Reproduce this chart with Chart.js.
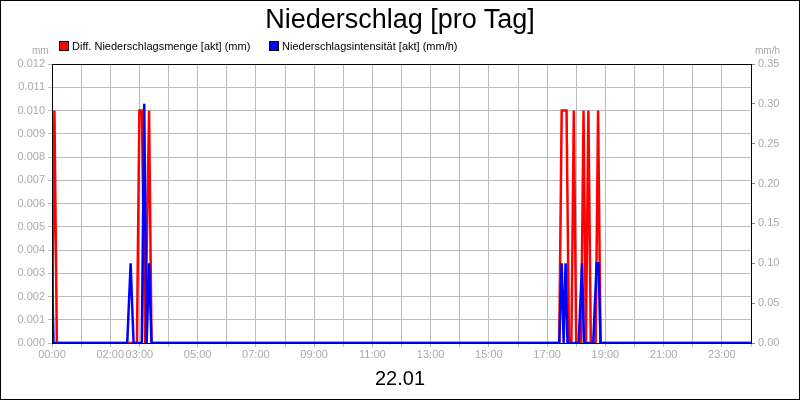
<!DOCTYPE html>
<html><head><meta charset="utf-8">
<script src="https://cdn.jsdelivr.net/npm/chart.js@4"></script>
<style>
body{margin:0;font-family:"Liberation Sans",Arial,sans-serif}
#wrap{position:relative;width:798px;height:398px;border:1px solid #000;background:#fff}
canvas{position:absolute;left:0;top:0}
.t{position:absolute;white-space:nowrap}
</style></head><body>
<div id="wrap">
<canvas id="c" width="798" height="398"></canvas>
<div class="t" style="left:0;width:798px;top:3px;text-align:center;font-size:27px">Niederschlag [pro Tag]</div>
<div class="t" style="left:0;width:798px;top:366px;text-align:center;font-size:20px">22.01</div>
<div class="t" style="left:31px;top:44px;font-size:10px;color:#aaa">mm</div>
<div class="t" style="left:754px;top:44px;font-size:10px;color:#aaa">mm/h</div>
<div class="t" style="left:58px;top:39px;font-size:11px"><span style="display:inline-block;width:8px;height:8px;background:#f00;border:1px solid #000;vertical-align:-1px"></span> Diff. Niederschlagsmenge [akt] (mm)</div>
<div class="t" style="left:268px;top:39px;font-size:11px"><span style="display:inline-block;width:8px;height:8px;background:#00f;border:1px solid #000;vertical-align:-1px"></span> Niederschlagsintensität [akt] (mm/h)</div>
</div>
<script>
// times as HH:MM, values per series
const mengeTimes = ['00:00','00:05','00:10','02:55','03:00','03:05','03:12','03:20','03:25','17:25','17:30','17:35','17:40','17:45','17:50','17:55','18:00','18:10','18:15','18:20','18:25','18:30','18:40','18:45','18:50','24:00'];
const mengeValues = [0,0.01,0,0,0.01,0.01,0,0.01,0,0,0.01,0.01,0.01,0,0,0.01,0,0,0.01,0,0.01,0,0,0.01,0,0];
const intensTimes = ['00:00','00:03','02:35','02:42','02:48','03:05','03:10','03:15','03:20','03:25','17:25','17:30','17:34','17:38','17:42','18:05','18:12','18:16','18:35','18:42','18:46','18:50','24:00'];
const intensValues = [0.1,0,0,0.1,0,0,0.3,0,0.1,0,0,0.1,0,0.1,0,0,0.1,0,0,0.1,0.1,0,0];
const xLabelHours = [0,2,3,5,7,9,11,13,15,17,19,21,23];

const toMin = t => { const [h, m] = t.split(':').map(Number); return h * 60 + m; };
const pts = (ts, vs) => ts.map((t, i) => ({ x: toMin(t), y: vs[i] }));
const pad = n => String(n).padStart(2, '0');

const frame = {
  id: 'frame',
  afterDraw(chart) {
    const a = chart.chartArea, ctx = chart.ctx;
    ctx.save(); ctx.strokeStyle = '#000'; ctx.lineWidth = 1;
    ctx.strokeRect(a.left + 0.5, a.top + 0.5, a.right - a.left, a.bottom - a.top);
    ctx.restore();
  }
};

new Chart(document.getElementById('c'), {
  type: 'line',
  data: {
    datasets: [
      { data: pts(intensTimes, intensValues), yAxisID: 'y2', borderColor: '#00f', borderWidth: 2.5, pointRadius: 0, tension: 0 },
      { data: pts(mengeTimes, mengeValues), yAxisID: 'y', borderColor: '#f00', borderWidth: 2.5, pointRadius: 0, tension: 0 }
    ]
  },
  options: {
    responsive: false, animation: false,
    layout: { padding: { top: 63, left: 0, right: 0, bottom: 0 } },
    plugins: { legend: { display: false }, tooltip: { enabled: false } },
    scales: {
      x: {
        type: 'linear', min: 0, max: 1440,
        afterFit: s => { s.height = 56; },
        afterBuildTicks: s => { s.ticks = []; for (let m = 0; m <= 1440; m += 60) s.ticks.push({ value: m }); },
        ticks: { autoSkip: false, maxRotation: 0, color: '#aaa', font: { size: 11 }, padding: 1,
          callback: v => xLabelHours.includes(v / 60) ? pad(v / 60) + ':00' : '' },
        grid: { color: '#bbb', tickLength: 4 }, border: { color: '#000' }
      },
      y: {
        position: 'left', min: 0, max: 0.012,
        afterFit: s => { s.width = 51; },
        ticks: { stepSize: 0.001, color: '#aaa', font: { size: 11 }, callback: v => v.toFixed(3) },
        grid: { color: '#bbb', tickLength: 4 }, border: { color: '#000' }
      },
      y2: {
        position: 'right', min: 0, max: 0.35,
        afterFit: s => { s.width = 48; },
        ticks: { stepSize: 0.05, color: '#aaa', font: { size: 11 }, callback: v => v.toFixed(2) },
        grid: { drawOnChartArea: false, tickLength: 4, color: '#888' }, border: { color: '#000' }
      }
    }
  },
  plugins: [frame]
});
</script>
</body></html>
